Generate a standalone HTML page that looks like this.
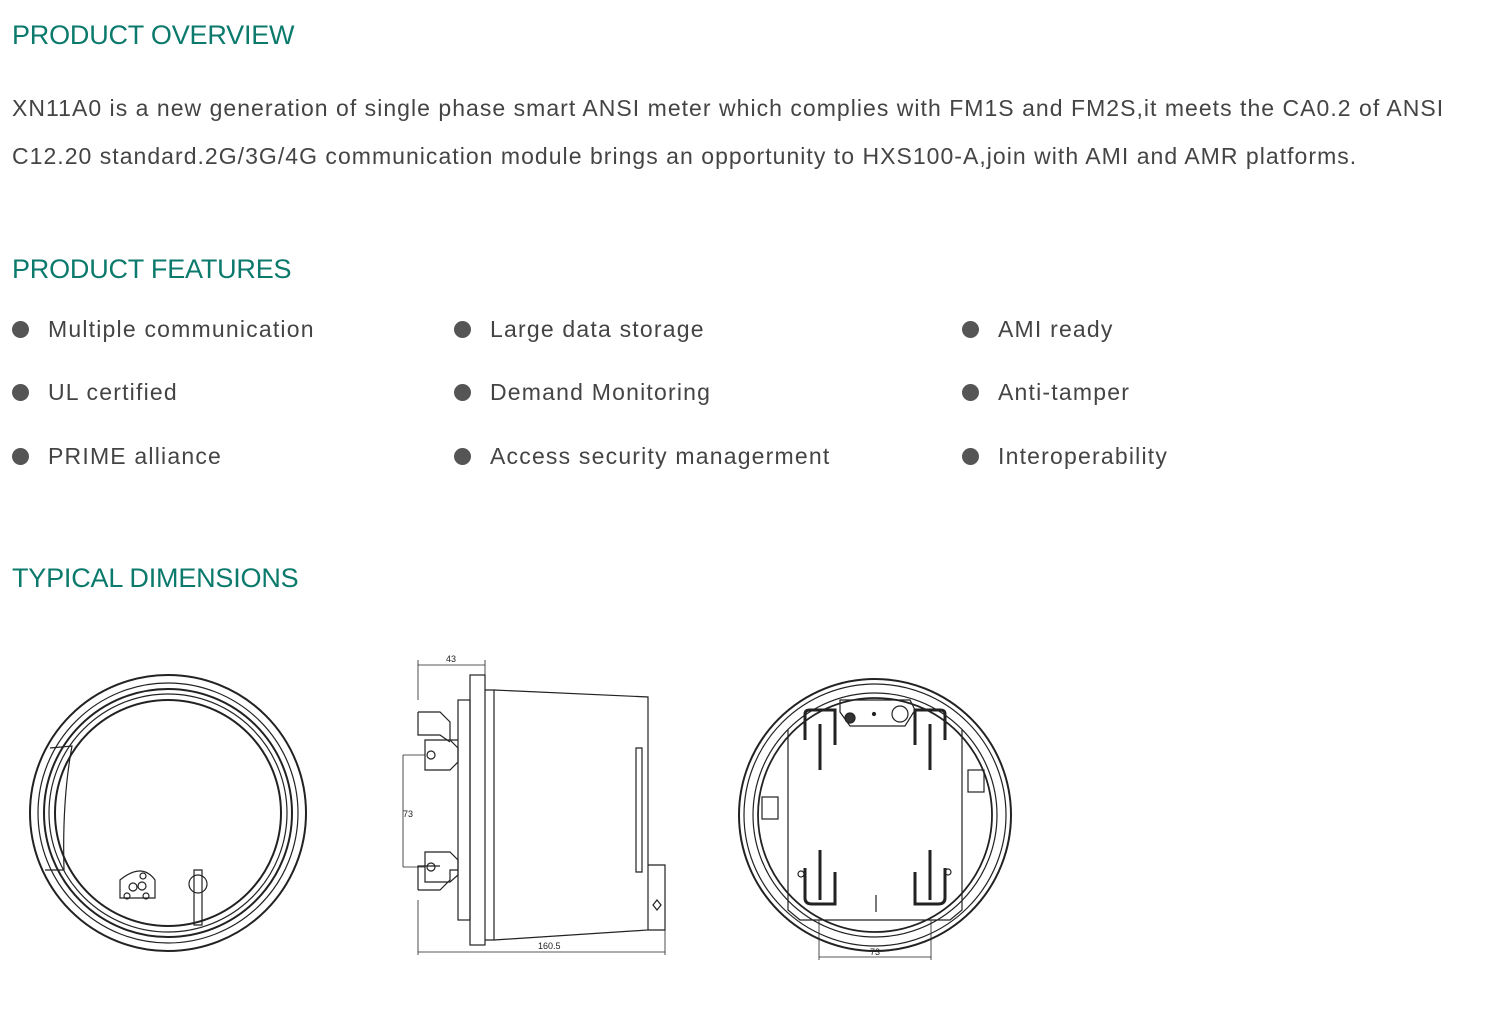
<!DOCTYPE html>
<html><head><meta charset="utf-8"><style>
body{margin:0;width:1500px;height:1028px;background:#fff;font-family:"Liberation Sans",sans-serif;position:relative;overflow:hidden}
.h{position:absolute;left:12px;color:#0b7a6c;font-size:27px;line-height:32px;letter-spacing:-0.2px}
.p{position:absolute;left:12px;top:84px;color:#444;font-size:23px;line-height:48px;width:1490px;letter-spacing:1.03px;white-space:nowrap}
.b{position:absolute;color:#444;font-size:23px;line-height:28px;letter-spacing:1.2px;white-space:nowrap}
.b:before{content:"";position:absolute;left:-36px;top:6px;width:17px;height:17px;border-radius:50%;background:#555}
svg{position:absolute;left:0;top:0}
</style></head><body>
<div class="h" style="top:19px">PRODUCT OVERVIEW</div>
<div class="p">XN11A0 is a new generation of single phase smart ANSI meter which complies with FM1S and FM2S,it meets the CA0.2 of ANSI<br>C12.20 standard.2G/3G/4G communication module brings an opportunity to HXS100-A,join with AMI and AMR platforms.</div>
<div class="h" style="top:253px">PRODUCT FEATURES</div>
<div class="b" style="left:48px;top:315px">Multiple communication</div>
<div class="b" style="left:490px;top:315px">Large data storage</div>
<div class="b" style="left:998px;top:315px">AMI ready</div>
<div class="b" style="left:48px;top:378px">UL certified</div>
<div class="b" style="left:490px;top:378px">Demand Monitoring</div>
<div class="b" style="left:998px;top:378px">Anti-tamper</div>
<div class="b" style="left:48px;top:442px">PRIME alliance</div>
<div class="b" style="left:490px;top:442px">Access security managerment</div>
<div class="b" style="left:998px;top:442px">Interoperability</div>
<div class="h" style="top:562px">TYPICAL DIMENSIONS</div>
<svg width="1500" height="1028" fill="none" stroke="#222" stroke-width="1.2">
<ellipse cx="168" cy="813" rx="138" ry="138" stroke-width="2"/>
<ellipse cx="168" cy="813" rx="130" ry="130"/>
<ellipse cx="168" cy="813" rx="124" ry="124" stroke-width="2"/>
<ellipse cx="168" cy="813" rx="119" ry="119"/>
<ellipse cx="168" cy="813" rx="113" ry="113" stroke-width="2"/>
<path d="M50 748 L72 746 Q62 800 64 870 L45 870"/>
<path d="M120 880 Q142 862 155 880 L155 898 L120 898 Z"/>
<circle cx="133" cy="887" r="4"/><circle cx="142" cy="886" r="4"/><circle cx="143" cy="876" r="3"/><circle cx="127" cy="896" r="3"/><circle cx="146" cy="896" r="3"/>
<circle cx="198" cy="884" r="9"/><path d="M194 870 h8 v55 h-8z"/>
<path d="M418 665 H485 M418 660 V700 M485 660 V690" stroke-width="0.8"/>
<text x="446" y="662" font-size="9" fill="#222" stroke="none" font-family="Liberation Sans">43</text>
<rect x="470" y="675" width="15" height="270"/>
<rect x="458" y="700" width="12" height="220"/>
<path d="M485 690 L494 690 L648 697 L648 930 L494 940 L485 940"/>
<path d="M494 690 V940"/>
<path d="M636 748 H642 V872 H636Z"/>
<path d="M648 865 H665 V930 H648"/>
<path d="M653 905 l4 -5 l4 5 l-4 5z"/>
<path d="M418 712 H440 L450 722 V740 H458 M418 712 V735 H440 L450 742"/>
<path d="M418 890 H440 L450 880 V870 H458 M418 890 V866 H440"/>
<path d="M425 740 H450 L458 748 V762 L450 770 H425 Z"/><circle cx="431" cy="755" r="4"/>
<path d="M425 852 H450 L458 860 V875 L450 882 H425 Z"/><circle cx="431" cy="867" r="4"/>
<path d="M403 755 H425 M403 867 H425 M403 755 V867" stroke-width="0.8"/>
<text x="403" y="817" font-size="9" fill="#222" stroke="none" font-family="Liberation Sans">73</text>
<path d="M418 952 H665 M418 900 V955 M665 930 V955" stroke-width="0.8"/>
<text x="538" y="949" font-size="9" fill="#222" stroke="none" font-family="Liberation Sans">160.5</text>
<circle cx="875" cy="815" r="136" stroke-width="2"/>
<circle cx="875" cy="815" r="131"/>
<circle cx="875" cy="815" r="122"/>
<circle cx="875" cy="815" r="117" stroke-width="1.8"/>
<path d="M840 700 H910 L915 710 L905 726 H850 L840 712 Z"/>
<circle cx="850" cy="718" r="5" fill="#333"/><circle cx="900" cy="714" r="8"/><circle cx="874" cy="714" r="1.5" fill="#222"/>
<path d="M805 740 V714 Q805 710 810 710 H835 V745" stroke-width="3"/>
<path d="M945 740 V714 Q945 710 940 710 H915 V745" stroke-width="3"/>
<path d="M805 868 V898 Q805 904 812 904 H835 V872" stroke-width="3"/>
<path d="M945 868 V898 Q945 904 938 904 H915 V872" stroke-width="3"/>
<path d="M788 730 V910 L800 920 H950 L962 910 V730"/>
<path d="M820 724 V770 M930 724 V770 M820 850 V900 M930 850 V900" stroke-width="3"/>
<rect x="762" y="797" width="16" height="22"/><rect x="968" y="770" width="16" height="22"/>
<circle cx="801" cy="874" r="3"/><circle cx="948" cy="872" r="3"/>
<path d="M876 895 V912"/>
<path d="M819 957 H931 M819 920 V960 M931 920 V960" stroke-width="0.8"/>
<text x="870" y="955" font-size="9" fill="#222" stroke="none" font-family="Liberation Sans">73</text>
</svg>
</body></html>
